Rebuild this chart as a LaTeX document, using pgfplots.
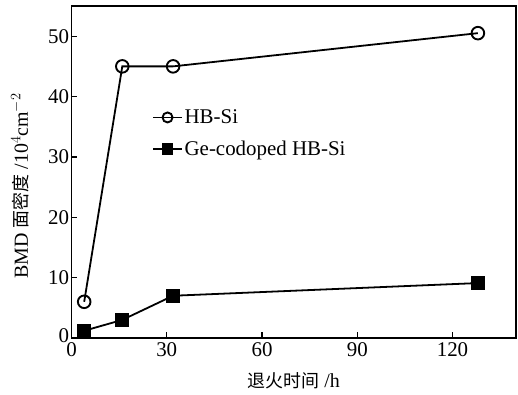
\documentclass[border=0pt]{standalone}
\usepackage{pgfplots}
\pgfplotsset{compat=1.18}
\usepackage{fontspec}
\setmainfont{Liberation Serif}
\newfontfamily\cjk{Noto Sans CJK SC}
\begin{document}
\begin{tikzpicture}
\begin{axis}[
  scale only axis,
  width=444.5bp, height=332bp,
  xmin=0, xmax=140, ymin=0, ymax=55,
  xtick={0,30,60,90,120}, ytick={0,10,20,30,40,50},
  yticklabels={\raisebox{4bp}{0},10,20,30,40,50},
  tick pos=left, tick align=inside,
  major tick length=6bp,
  axis line style={line width=1.5pt},
  every tick/.style={line width=1.2pt, black},
  tick label style={font=\fontsize{21}{24}\selectfont},
  xticklabel style={yshift=-1.5bp},
  yticklabel style={xshift=1bp},
  label style={font=\fontsize{20}{24}\selectfont},
  /pgf/number format/assume math mode=true,
  xlabel={{\cjk\fontsize{18}{24}\selectfont 退火时间} /h},
  ylabel={BMD {\cjk\fontsize{18}{24}\selectfont 面密度} /10$^4$cm$^{-2}$},
  ylabel style={yshift=12bp, xshift=-14bp},
  xlabel style={yshift=-8.5bp},
  legend style={draw=none, fill=none, at={(0.175,0.70)}, anchor=north west, row sep=12bp, font=\fontsize{21}{24}\selectfont},
  legend image code/.code={\draw[#1] (0cm,0cm) -- (1cm,0cm); \draw[#1, only marks, mark size=5bp] plot coordinates {(0.5cm,0cm)};},
  legend cell align=left,
]
\addplot[black, line width=1.8pt, mark=o, mark size=6.3bp, mark options={line width=1.9pt, fill=white}] coordinates {
  (4,6) (16,45) (32,45) (128,50.5)
};
\addlegendentry{HB-Si}
\addplot[black, line width=1.8pt, mark=square*, mark size=6.3bp] coordinates {
  (4,1.2) (16,3.0) (32,7.0) (128,9.1)
};
\addlegendentry{Ge-codoped HB-Si}
\end{axis}
\path ([xshift=-71.5bp,yshift=-57bp]current axis.south west) rectangle ([xshift=2bp,yshift=6bp]current axis.north east);
\end{tikzpicture}
\end{document}
